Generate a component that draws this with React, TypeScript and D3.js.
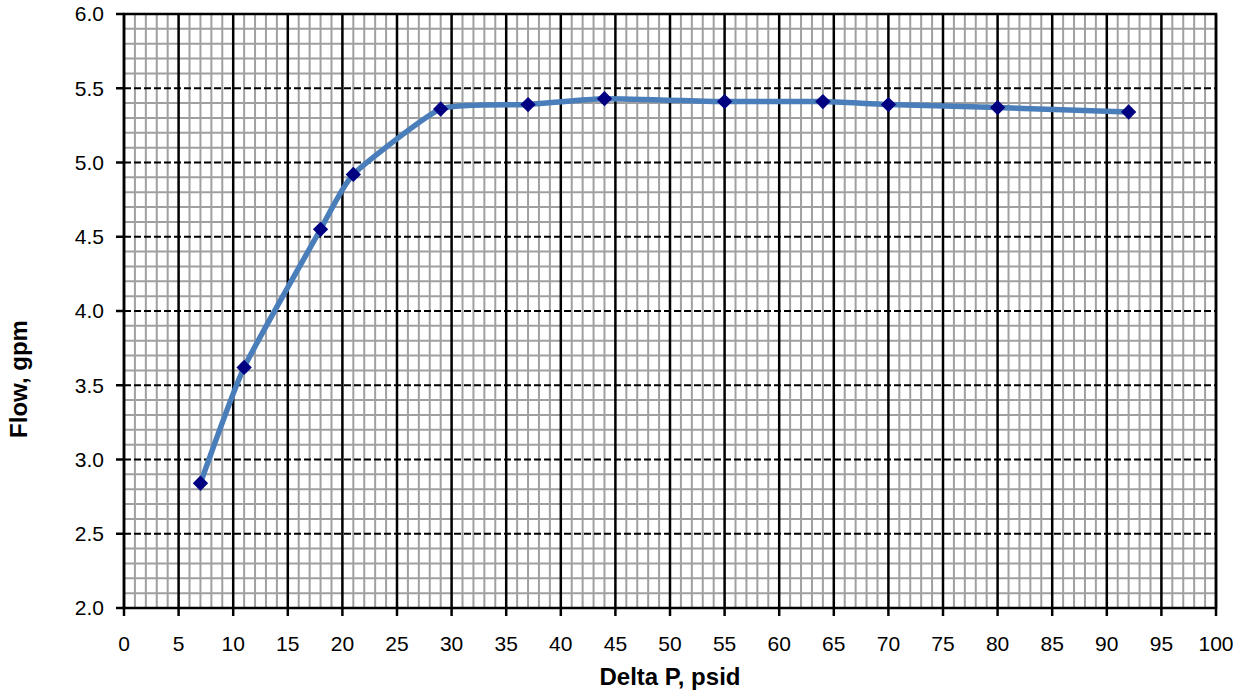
import * as d3 from 'd3'

// Delta P (psid) vs flow (gpm)
const deltaP = [7, 11, 18, 21, 29, 37, 44, 55, 64, 70, 80, 92]
const flow = [2.84, 3.62, 4.55, 4.92, 5.36, 5.39, 5.43, 5.41, 5.41, 5.39, 5.37, 5.34]

const xTicks = [0, 5, 10, 15, 20, 25, 30, 35, 40, 45, 50, 55, 60, 65, 70, 75, 80, 85, 90, 95, 100]
const yTicks = [2.0, 2.5, 3.0, 3.5, 4.0, 4.5, 5.0, 5.5, 6.0]

const width = 1245
const height = 696
const margin = { top: 14, right: 29, bottom: 88, left: 124 }

const App = () => {
  const x = d3.scaleLinear().domain([0, 100]).range([margin.left, width - margin.right])
  const y = d3.scaleLinear().domain([2, 6]).range([height - margin.bottom, margin.top])

  const minorX = d3.range(0, 101).filter((d) => d % 5 !== 0)
  const minorY = d3.range(20, 61).filter((d) => d % 5 !== 0).map((d) => d / 10)

  const points = deltaP.map((d, i) => [d, flow[i]] as [number, number])
  const line = d3
    .line<[number, number]>()
    .x((d) => x(d[0]))
    .y((d) => y(d[1]))
    .curve(d3.curveCardinal.tension(0.5))

  const [x0, x1] = x.range()
  const [y0, y1] = y.range()
  const font = '"Liberation Sans", Arial, sans-serif'
  const diamond = d3.symbol(d3.symbolDiamond2, 150)() ?? ''

  return (
    <svg
      width={width}
      height={height}
      style={{ position: 'absolute', left: 0, top: 0, background: '#fff' }}
      fontFamily={font}
    >
      {/* minor grid */}
      <g stroke="#a0a0a0" strokeWidth={2}>
        {minorX.map((d) => (
          <line key={'mx' + d} x1={x(d)} x2={x(d)} y1={y1} y2={y0} />
        ))}
        {minorY.map((d) => (
          <line key={'my' + d} x1={x0} x2={x1} y1={y(d)} y2={y(d)} />
        ))}
      </g>

      {/* major grid */}
      <g stroke="#000" strokeWidth={2}>
        {yTicks.map((d) => (
          <line key={'gy' + d} x1={x0} x2={x1} y1={y(d)} y2={y(d)} strokeDasharray="7,3" />
        ))}
      </g>
      <g stroke="#000" strokeWidth={2.5}>
        {xTicks.map((d) => (
          <line key={'gx' + d} x1={x(d)} x2={x(d)} y1={y1} y2={y0} />
        ))}
      </g>

      {/* frame */}
      <rect x={x0} y={y1} width={x1 - x0} height={y0 - y1} fill="none" stroke="#000" strokeWidth={2.5} />

      {/* axes ticks */}
      <g stroke="#000" strokeWidth={2.5}>
        {xTicks.map((d) => (
          <line key={'tx' + d} x1={x(d)} x2={x(d)} y1={y0} y2={y0 + 8} />
        ))}
        {yTicks.map((d) => (
          <line key={'ty' + d} x1={x0 - 8} x2={x0} y1={y(d)} y2={y(d)} />
        ))}
      </g>

      <g fontSize={21} fill="#000">
        {xTicks.map((d) => (
          <text key={'lx' + d} x={x(d)} y={y0 + 43} textAnchor="middle">
            {d}
          </text>
        ))}
        {yTicks.map((d) => (
          <text key={'ly' + d} x={x0 - 20} y={y(d)} dy="0.35em" textAnchor="end">
            {d.toFixed(1)}
          </text>
        ))}
      </g>

      {/* series */}
      <path d={line(points) ?? ''} fill="none" stroke="#4a7ebb" strokeWidth={5.5} strokeLinejoin="round" />
      <g fill="#000080">
        {points.map(([px, py], i) => (
          <path key={'p' + i} d={diamond} transform={`translate(${x(px)},${y(py)})`} />
        ))}
      </g>

      {/* axis titles */}
      <text x={(x0 + x1) / 2} y={685} textAnchor="middle" fontSize={24} fontWeight="bold">
        Delta P, psid
      </text>
      <text
        transform={`translate(27,${(y0 + y1) / 2 + 68}) rotate(-90)`}
        textAnchor="middle"
        fontSize={24}
        fontWeight="bold"
      >
        Flow, gpm
      </text>
    </svg>
  )
}

export default App
